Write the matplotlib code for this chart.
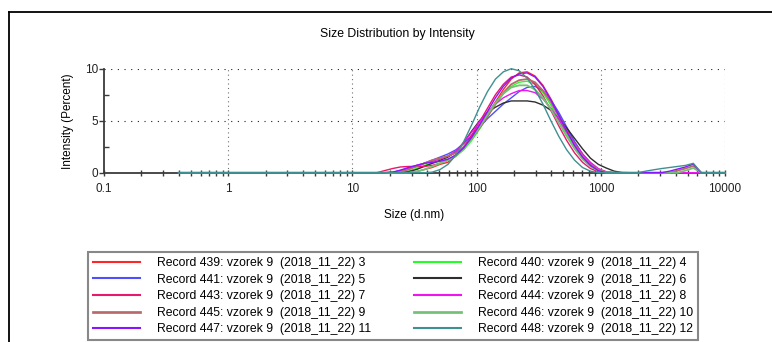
import matplotlib
matplotlib.use("Agg")
import matplotlib.pyplot as plt
from matplotlib.lines import Line2D
from matplotlib import font_manager

# size classes (d.nm) of the instrument, 70 bins from 0.4 to 10000
sizes = [0.4000, 0.4632, 0.5365, 0.6213, 0.7195, 0.8332, 0.9649, 1.117, 1.294, 1.499,
         1.736, 2.010, 2.328, 2.696, 3.122, 3.615, 4.187, 4.849, 5.615, 6.503,
         7.531, 8.721, 10.10, 11.70, 13.54, 15.69, 18.17, 21.04, 24.36, 28.21,
         32.67, 37.84, 43.82, 50.75, 58.77, 68.06, 78.82, 91.28, 105.7, 122.4,
         141.8, 164.2, 190.1, 220.2, 255.0, 295.3, 342.0, 396.1, 458.7, 531.2,
         615.1, 712.4, 825.0, 955.4, 1106, 1281, 1484, 1718, 1990, 2305,
         2669, 3091, 3580, 4145, 4801, 5560, 6439, 7456, 8635, 10000]

# intensity (%) per record, bins 0..69 (leading zeros padded)
rec_439 = [0]*30 + [0.1, 0.3, 0.5, 0.8, 1.0, 1.6, 2.4, 3.4, 4.6, 5.6,
                    6.8, 8.0, 9.0, 9.6, 9.7, 9.3, 8.4, 7.1, 5.6, 4.2,
                    2.9, 1.8, 0.9, 0.3, 0.05] + [0]*15
rec_440 = [0]*29 + [0.15, 0.4, 0.7, 0.9, 1.1, 1.3, 1.6, 2.2, 3.1, 4.2, 5.4,
                    6.6, 7.6, 8.3, 8.7, 8.8, 8.5, 7.7, 6.5, 5.1, 3.7,
                    2.4, 1.4, 0.7, 0.2] + [0]*16
rec_441 = [0]*27 + [0.05, 0.2, 0.4, 0.6, 0.9, 1.2, 1.5, 1.8, 2.2, 2.8,
                    3.6, 4.4, 5.2, 5.9, 6.6, 7.2, 7.8, 8.2, 8.3, 7.9,
                    7.0, 5.8, 4.4, 3.0, 1.8, 0.9, 0.3, 0.05] + [0]*15
rec_442 = [0]*29 + [0.1, 0.3, 0.6, 0.9, 1.2, 1.5, 2.0, 2.9, 4.0, 5.0,
                    5.8, 6.3, 6.7, 6.9, 6.9, 6.9, 6.8, 6.5, 6.0, 5.2,
                    4.3, 3.3, 2.3, 1.4, 0.8, 0.45, 0.15, 0.02] + [0]*13
rec_443 = [0]*26 + [0.2, 0.4, 0.55, 0.6, 0.6, 0.6, 0.7, 0.9, 1.2, 1.7,
                    2.5, 3.6, 4.9, 6.2, 7.5, 8.5, 9.2, 9.4, 9.2, 8.5,
                    7.4, 6.0, 4.5, 3.1, 1.9, 1.0, 0.4, 0.1] + [0]*16
rec_444 = [0]*28 + [0.15, 0.4, 0.7, 0.9, 1.1, 1.3, 1.6, 2.1, 2.9, 3.9,
                    4.9, 5.8, 6.6, 7.2, 7.6, 7.9, 7.9, 7.7, 7.1, 6.2,
                    5.1, 3.9, 2.8, 1.8, 1.0, 0.4, 0.1] + [0]*15
rec_445 = [0]*28 + [0.1, 0.3, 0.6, 0.9, 1.2, 1.4, 1.6, 1.9, 2.5, 3.3,
                    4.3, 5.4, 6.6, 7.7, 8.5, 8.9, 9.0, 8.7, 7.9, 6.8,
                    5.4, 4.0, 2.7, 1.6, 0.8, 0.3, 0.05,
                    0, 0, 0, 0, 0, 0, 0, 0, 0.2, 0.4, 0.65, 0, 0, 0, 0]
rec_446 = [0]*30 + [0.1, 0.3, 0.6, 0.9, 1.2, 1.6, 2.3, 3.3, 4.4, 5.6,
                    6.7, 7.6, 8.2, 8.4, 8.4, 8.0, 7.2, 6.1, 4.8, 3.5,
                    2.3, 1.3, 0.6, 0.2,
                    0, 0, 0, 0, 0, 0, 0, 0, 0, 0, 0.2, 0.45, 0, 0, 0, 0]
rec_447 = [0]*27 + [0.05, 0.25, 0.5, 0.7, 0.9, 1.0, 1.1, 1.3, 1.7, 2.4,
                    3.4, 4.6, 5.9, 7.2, 8.3, 9.1, 9.5, 9.6, 9.2, 8.3,
                    7.0, 5.5, 4.0, 2.6, 1.5, 0.7, 0.2,
                    0, 0, 0, 0, 0, 0, 0, 0, 0.15, 0.35, 0.55, 0.83, 0, 0, 0, 0]
rec_448 = [0]*32 + [0.05, 0.3, 0.8, 1.7, 3.0, 4.6, 6.3, 7.8, 9.0, 9.7,
                    10.0, 9.8, 9.1, 8.0, 6.6, 5.0, 3.5, 2.2, 1.2, 0.5,
                    0.15, 0, 0, 0, 0, 0, 0,
                    0.15, 0.28, 0.4, 0.5, 0.6, 0.7, 0.9, 0, 0, 0, 0]

# label, values, colour, line width
series = [
    ("Record 439: vzorek 9  (2018_11_22) 3", rec_439, "#ff2626", 1.0),
    ("Record 440: vzorek 9  (2018_11_22) 4", rec_440, "#22ff22", 1.0),
    ("Record 441: vzorek 9  (2018_11_22) 5", rec_441, "#4f4fff", 1.0),
    ("Record 442: vzorek 9  (2018_11_22) 6", rec_442, "#2e2e2e", 1.0),
    ("Record 443: vzorek 9  (2018_11_22) 7", rec_443, "#e8186c", 1.0),
    ("Record 444: vzorek 9  (2018_11_22) 8", rec_444, "#f014f0", 1.0),
    ("Record 445: vzorek 9  (2018_11_22) 9", rec_445, "#b86a6a", 1.3),
    ("Record 446: vzorek 9  (2018_11_22) 10", rec_446, "#74c074", 1.3),
    ("Record 447: vzorek 9  (2018_11_22) 11", rec_447, "#8a14ff", 1.0),
    ("Record 448: vzorek 9  (2018_11_22) 12", rec_448, "#3f9090", 1.0),
]

x_ticks = [0.1, 1, 10, 100, 1000, 10000]
x_tick_labels = ["0.1", "1", "10", "100", "1000", "10000"]
y_ticks = [0, 5, 10]

installed = {f.name for f in font_manager.fontManager.ttflist}
narrow = "Liberation Sans Narrow" if "Liberation Sans Narrow" in installed else "Liberation Sans"
plt.rcParams["font.family"] = ["Liberation Sans", "DejaVu Sans"]

fig = plt.figure(figsize=(7.72, 3.42), dpi=100)
ax = fig.add_axes([104 / 772, 1 - 172.7 / 342, 621 / 772, 104 / 342])

lines = {}
for label, vals, color, lw in series:
    ln, = ax.plot(sizes, vals, color=color, lw=lw, clip_on=False, zorder=3, label=label)
    lines[label] = ln

ax.set_xscale("log")
ax.set_xlim(0.1, 10000)
ax.set_ylim(0, 10)
ax.set_xticks(x_ticks)
ax.set_xticklabels(x_tick_labels)
ax.set_yticks(y_ticks)
ax.set_yticks([2.5, 7.5], minor=True)

for side in ("top", "right"):
    ax.spines[side].set_visible(False)
for side in ("left", "bottom"):
    ax.spines[side].set_color("#3a3a3a")
    ax.spines[side].set_linewidth(1.3)
    ax.spines[side].set_zorder(2)

ax.tick_params(axis="x", which="both", direction="inout", length=5, width=1,
               color="#3a3a3a", labelsize=8.5, pad=5, labelcolor="#222222")
ax.tick_params(axis="y", which="major", direction="out", length=3.5, width=1,
               color="#3a3a3a", labelsize=8.5, pad=0.5, labelcolor="#222222")
ax.tick_params(axis="y", which="minor", direction="in", length=3.5, width=1,
               color="#3a3a3a")

# dotted grid at the decades and at 5 / 10 %
ax.grid(False)
for xv in x_ticks[1:]:
    ax.axvline(xv, color="#707070", lw=0.8, ls=(0, (1, 3)), zorder=1)
for yv in (5, 10):
    ax.axhline(yv, color="#202020", lw=0.8, ls=(0, (1, 5)), zorder=1)

ax.set_xlabel("Size (d.nm)", fontsize=8.5, family=[narrow, "DejaVu Sans"], labelpad=10)
ax.set_ylabel("Intensity (Percent)", fontsize=8.5, labelpad=8)
fig.text(397 / 772, 1 - 33.5 / 342, "Size Distribution by Intensity", fontsize=8.8,
         family=[narrow, "DejaVu Sans"], ha="center", va="center")

# outer frame lines
fig.add_artist(Line2D([9 / 772, 9 / 772], [0, 1 - 12 / 342], transform=fig.transFigure,
                      color="black", lw=1.3))
fig.add_artist(Line2D([9 / 772, 1], [1 - 12 / 342, 1 - 12 / 342], transform=fig.transFigure,
                      color="black", lw=1.3))

order = [0, 2, 4, 6, 8, 1, 3, 5, 7, 9]
handles = [lines[series[i][0]] for i in order]
labels = [series[i][0] for i in order]
leg = fig.legend(handles, labels, ncol=2, loc="upper left",
                 bbox_to_anchor=(88 / 772, 1 - 252 / 342), fontsize=8.8,
                 handlelength=3.85, handletextpad=1.4, columnspacing=3.5,
                 labelspacing=0.38, borderpad=0.4, borderaxespad=0,
                 fancybox=False, frameon=True)
leg.get_frame().set_edgecolor("#6a6a6a")
leg.get_frame().set_linewidth(1.5)
for h in leg.legend_handles:
    h.set_linewidth(h.get_linewidth() * 1.5)

fig.savefig("out.png", dpi=100)
